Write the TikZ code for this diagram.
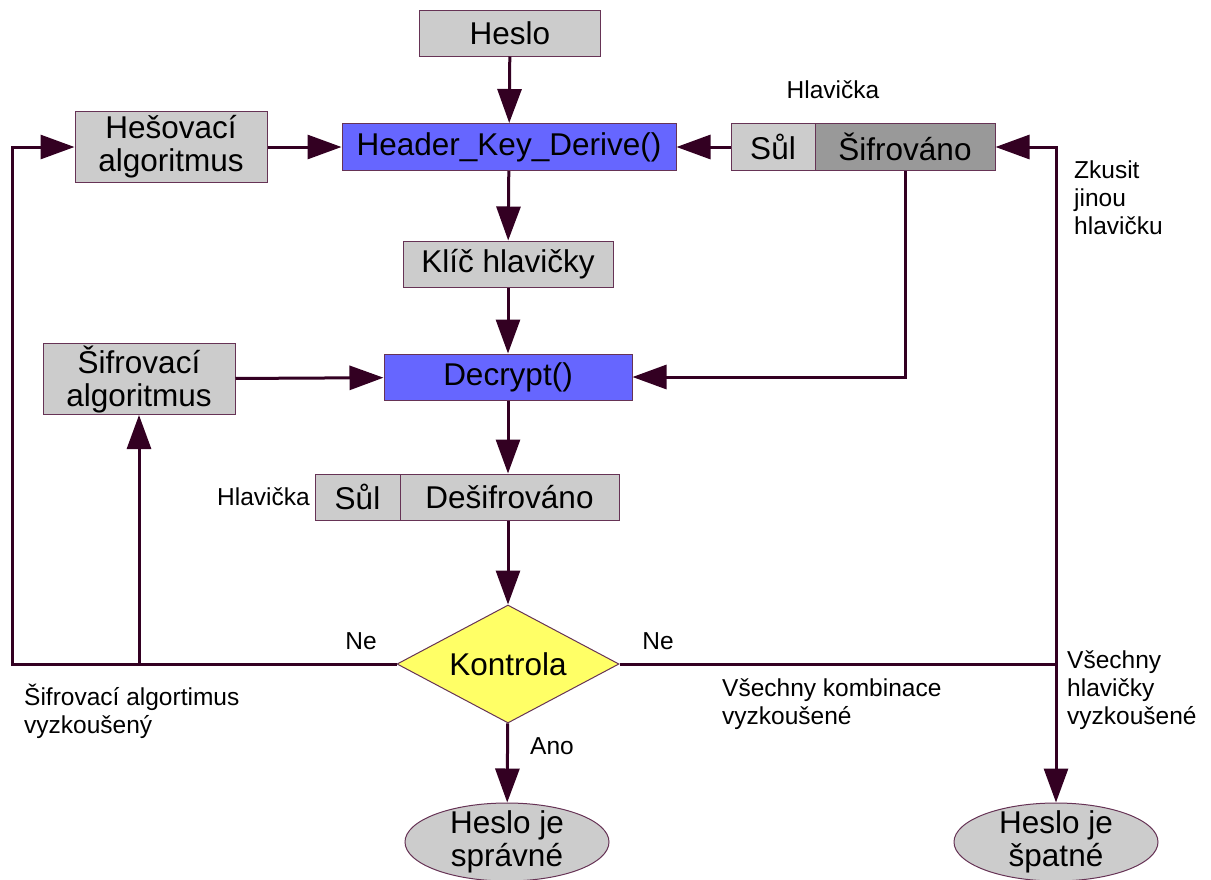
\documentclass[tikz,border=0pt]{standalone}
\usepackage{fontspec}
\setmainfont{Liberation Sans}
\usetikzlibrary{shapes.geometric,arrows.meta}

\definecolor{linecol}{RGB}{51,0,34}
\definecolor{edgecol}{RGB}{102,51,85}
\definecolor{boxgray}{RGB}{204,204,204}
\definecolor{darkgray}{RGB}{153,153,153}
\definecolor{funcblue}{RGB}{102,102,255}
\definecolor{checkyellow}{RGB}{255,255,102}

\begin{document}
\begin{tikzpicture}[x=1pt,y=-1pt,
	box/.style={draw=edgecol, line width=1pt, fill=boxgray, inner sep=0pt, align=center, font=\fontsize{31.5}{33}\selectfont},
	func/.style={box, fill=funcblue},
	endnode/.style={ellipse, draw=edgecol, line width=1pt, fill=boxgray, inner xsep=0pt, inner ysep=-5pt, minimum width=204pt, minimum height=78pt, align=center, font=\fontsize{31.5}{33}\selectfont},
	note/.style={inner sep=0pt, align=left, font=\fontsize{24.5}{28}\selectfont},
	arr/.style={linecol, line width=3pt, -{Triangle[length=34pt,width=24pt]}},
	ln/.style={linecol, line width=3pt}]
	\useasboundingbox (0,0) rectangle (1211,879);
	% top row
	\node[box, minimum width=181pt, minimum height=46pt] (heslo) at (510,33) {Heslo};
	\node[box, minimum width=192pt, minimum height=71pt] (hes) at (171,147) {Hešovací\\algoritmus};
	\node[func, minimum width=334pt, minimum height=47pt] (hkd) at (509,147) {Header\_Key\_Derive()};
	\node[box, minimum width=84pt, minimum height=47pt] (sul) at (773,147) {Sůl};
	\node[box, fill=darkgray, minimum width=180pt, minimum height=47pt] (sifr) at (905,147) {Šifrováno};
	\node[note] (hlav) at (833,90) {Hlavička};
	\node[note] (zkus) at (1074,198) [anchor=west] {Zkusit\\jinou\\hlavičku};
	% middle
	\node[box, minimum width=210pt, minimum height=46pt] (klic) at (508,264) {Klíč hlavičky};
	\node[box, minimum width=192pt, minimum height=71pt] (sif) at (139,379) {Šifrovací\\algoritmus};
	\node[func, minimum width=248pt, minimum height=46pt] (dec) at (508,377) {Decrypt()};
	\node[box, minimum width=85pt, minimum height=46pt] (sul2) at (357.5,497) {Sůl};
	\node[box, minimum width=219pt, minimum height=46pt] (desif) at (509.5,497) {Dešifrováno};
	\node[note, anchor=east] (hlav2) at (310,497) {Hlavička};
	% decision and results
	\node[diamond, aspect=1.87, draw=edgecol, line width=1pt, fill=checkyellow, inner sep=0pt, minimum width=222pt, minimum height=118pt, font=\fontsize{31.5}{33}\selectfont] (kon) at (508,664) {Kontrola};
	\node[endnode] (ok) at (507,842) {Heslo je\\správné};
	\node[endnode] (bad) at (1056,842) {Heslo je\\špatné};
	\node[note] (ne1) at (361,641) {Ne};
	\node[note] (ne2) at (658,641) {Ne};
	\node[note] (ano) at (552,746) {Ano};
	\node[note, anchor=west] (vyzk1) at (24,711) {Šifrovací algortimus\\vyzkoušený};
	\node[note, anchor=west] (vyzk2) at (722,704) {Všechny kombinace\\vyzkoušené};
	\node[note, anchor=west] (vyzk3) at (1067,690) {Všechny\\hlavičky\\vyzkoušené};
	\coordinate (lc) at (12,664);
	\coordinate (lb) at (139,664);
	\coordinate (rc) at (1056,664);
	% connectors
	\draw[arr] (heslo) -- (hkd);
	\draw[arr] (hes) -- (hkd);
	\draw[arr] (sul) -- (hkd);
	\draw[arr] (hkd) -- (klic);
	\draw[arr] (klic) -- (dec);
	\draw[arr] (sif) -- (dec);
	\draw[arr] (sifr.south) |- (dec.east);
	\draw[arr] (dec.south) -- (dec.south |- desif.north);
	\draw[arr] (desif.south -| kon.north) -- (kon.north);
	\draw[arr] (kon) -- (ok);
	\draw[arr] (kon.west) -- (lc) |- (hes.west);
	\draw[arr] (lb) -- (sif.south);
	\draw[ln] (kon.east) -- (rc);
	\draw[arr] (rc) |- (sifr.east);
	\draw[arr] (rc) -- (bad);
\end{tikzpicture}
\end{document}
